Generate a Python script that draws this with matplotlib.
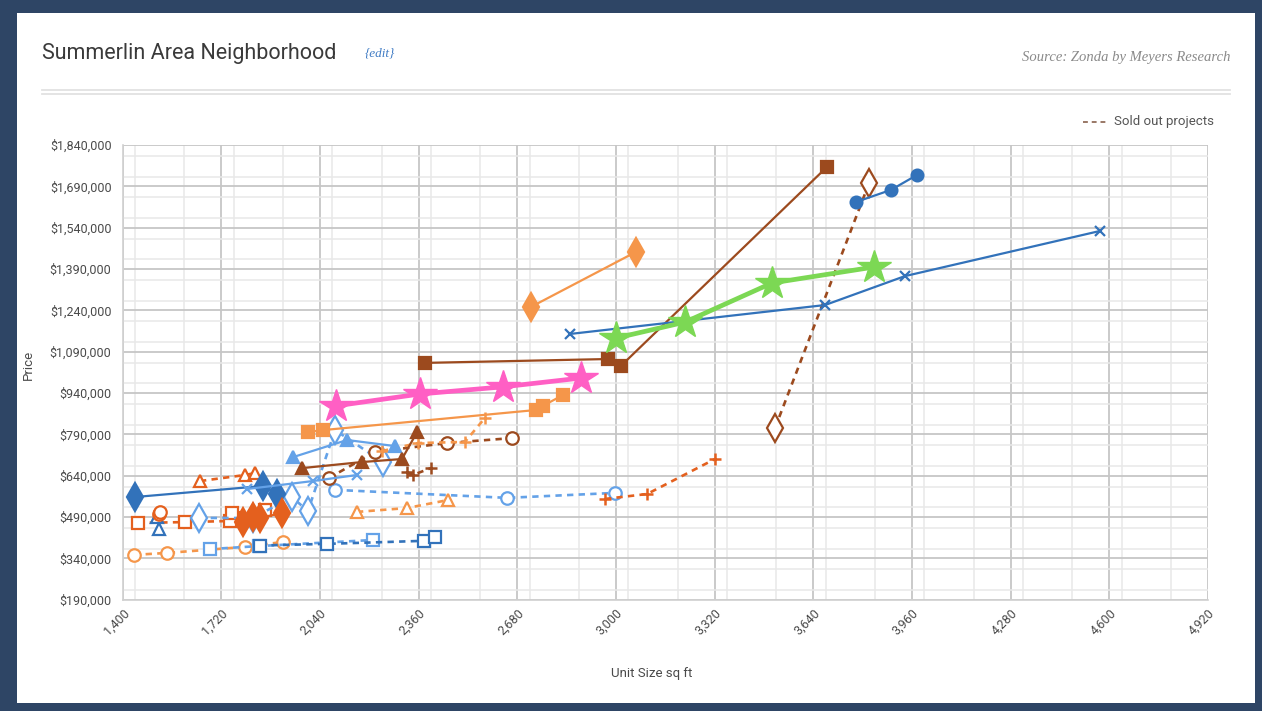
import matplotlib
matplotlib.use("Agg")
import matplotlib.pyplot as plt
from matplotlib.ticker import FuncFormatter, MultipleLocator
from matplotlib.lines import Line2D
from matplotlib.patches import Rectangle

# ---- data: unit size (sq ft) and price for each community ----
brown_sq_x = [2381, 2974, 3016, 3684]
brown_sq_y = [1049000, 1063000, 1038000, 1760000]

blue_circle_x = [3778, 3892, 3976]
blue_circle_y = [1633000, 1677000, 1731000]

blue_x_x = [2851, 3678, 3937, 4570]
blue_x_y = [1154000, 1259000, 1364000, 1528000]

green_star_x = [3000, 3224, 3506, 3837]
green_star_y = [1139000, 1197000, 1339000, 1397000]

brown_diamond_x = [3516, 3821]
brown_diamond_y = [813000, 1702000]

orange_diamond_x = [2724, 3065]
orange_diamond_y = [1252000, 1452000]

pink_star_x = [2092, 2364, 2634, 2887]
pink_star_y = [893000, 936000, 962000, 994000]

orange_sq_x = [2001, 2050, 2741, 2763, 2828]
orange_sq_y = [798000, 805000, 878000, 893000, 932000]

brown_tri_x = [1982, 2176, 2306, 2355]
brown_tri_y = [667000, 689000, 700000, 798000]

lblue_tri_x = [1953, 2128, 2283]
lblue_tri_y = [707000, 769000, 747000]

lblue_x_x = [1803, 2017, 2160]
lblue_x_y = [591000, 620000, 642000]

dblue_diamond_x = [1440, 1855, 1901]
dblue_diamond_y = [562000, 602000, 573000]

red_diamond_x = [1790, 1823, 1846, 1917]
red_diamond_y = [471000, 490000, 486000, 504000]

red_tri_x = [1651, 1797, 1829]
red_tri_y = [620000, 642000, 649000]

red_sq_x = [1450, 1602, 1748, 1755, 1862]
red_sq_y = [468000, 471000, 475000, 504000, 515000]

dblue_tri_x = [1512, 1518]
dblue_tri_y = [490000, 446000]

red_circle_x = [1518, 1522]
red_circle_y = [500000, 507000]

lblue_diamond_x = [1648, 1823, 1949, 2001, 2089, 2244]
lblue_diamond_y = [486000, 486000, 562000, 511000, 805000, 689000]

lblue_circle_x = [2089, 2647, 2997]
lblue_circle_y = [588000, 559000, 577000]

orange_tri_x = [2160, 2322, 2455]
orange_tri_y = [508000, 522000, 551000]

orange_circle_x = [1437, 1544, 1797, 1920]
orange_circle_y = [352000, 359000, 381000, 399000]

lblue_sq_x = [1683, 1842, 2212]
lblue_sq_y = [373000, 384000, 406000]

dblue_sq_x = [1845, 2063, 2377, 2413]
dblue_sq_y = [386000, 392000, 403000, 417000]

brown_circle_x = [2069, 2219, 2452, 2663]
brown_circle_y = [631000, 726000, 758000, 776000]

brown_plus_x = [2322, 2341, 2400]
brown_plus_y = [653000, 642000, 667000]

orange_plus_x = [2241, 2358, 2510, 2575]
orange_plus_y = [729000, 758000, 762000, 849000]

red_plus_x = [2964, 3101, 3321]
red_plus_y = [555000, 573000, 700000]

x_ticks = [1400, 1720, 2040, 2360, 2680, 3000, 3320, 3640, 3960, 4280, 4600, 4920]
y_ticks = [190000, 340000, 490000, 640000, 790000, 940000, 1090000,
           1240000, 1390000, 1540000, 1690000, 1840000]

# ---- colours ----
BROWN = "#9C4A1E"
BLUE = "#3272BA"
LBLUE = "#64A2E8"
ORANGE = "#F5964A"
RED = "#E4601E"
GREEN = "#7CD854"
PINK = "#FF5FC4"

NARROW = ["Roboto", "DejaVu Sans"]

fig = plt.figure(figsize=(12.62, 7.11), dpi=100)
fig.patch.set_facecolor("#2E4565")
fig.patches.append(Rectangle((17 / 1262, 8 / 711), (1255 - 17) / 1262, (698 - 8) / 711,
                             transform=fig.transFigure, facecolor="white",
                             edgecolor="none", zorder=-10))

ax = fig.add_axes([122.6 / 1262, 1 - 599.5 / 711, (1208 - 122.6) / 1262, (599.5 - 145) / 711])
ax.set_zorder(5)
ax.set_facecolor("white")

dash = (0, (2.4, 2.0))


def series(x, y, color, marker, ms, filled=True, ls="-", lw=1.6, mew=1.6, z=3):
    ax.plot(x, y, color=color, linestyle=ls, linewidth=lw, marker=marker,
            markersize=ms, markerfacecolor=color if filled else "white",
            markeredgecolor=color, markeredgewidth=mew, zorder=z,
            solid_capstyle="round")


# dashed (sold out) communities
series(orange_circle_x, orange_circle_y, ORANGE, "o", 9, False, dash, 1.9)
series(lblue_sq_x, lblue_sq_y, LBLUE, "s", 9, False, dash, 1.9)
series(dblue_sq_x, dblue_sq_y, BLUE, "s", 9, False, dash, 1.9)
series(red_sq_x, red_sq_y, RED, "s", 9, False, dash, 1.9)
series(red_tri_x, red_tri_y, RED, "^", 9, False, dash, 1.9)
series(lblue_diamond_x, lblue_diamond_y, LBLUE, "d", 14, False, dash, 1.9)
series(lblue_circle_x, lblue_circle_y, LBLUE, "o", 9, False, dash, 1.9)
series(orange_tri_x, orange_tri_y, ORANGE, "^", 9, False, dash, 1.9)
series(brown_circle_x, brown_circle_y, BROWN, "o", 9, False, dash, 1.9)
series(brown_plus_x, brown_plus_y, BROWN, "+", 9, True, dash, 1.9, 1.8)
series(orange_plus_x, orange_plus_y, ORANGE, "+", 9, True, dash, 1.9, 1.8)
series(red_plus_x, red_plus_y, RED, "+", 9, True, dash, 1.9, 1.8)
series(brown_diamond_x, brown_diamond_y, BROWN, "d", 14, False, dash, 1.9)

# active communities
series(dblue_tri_x, dblue_tri_y, BLUE, "^", 9, False)
series(red_circle_x, red_circle_y, RED, "o", 9, False)
series(dblue_diamond_x, dblue_diamond_y, BLUE, "d", 14)
series(red_diamond_x, red_diamond_y, RED, "d", 14)
series(lblue_x_x, lblue_x_y, LBLUE, "x", 7)
series(lblue_tri_x, lblue_tri_y, LBLUE, "^", 8)
series(brown_tri_x, brown_tri_y, BROWN, "^", 8)
series(orange_sq_x, orange_sq_y, ORANGE, "s", 8)
series(orange_diamond_x, orange_diamond_y, ORANGE, "d", 14)
series(brown_sq_x, brown_sq_y, BROWN, "s", 8)
series(blue_x_x, blue_x_y, BLUE, "x", 7)
series(blue_circle_x, blue_circle_y, BLUE, "o", 8.5)
series(pink_star_x, pink_star_y, PINK, "*", 25, True, "-", 3.4, 1, z=4)
series(green_star_x, green_star_y, GREEN, "*", 25, True, "-", 3.4, 1, z=4)

# ---- axes ----
ax.set_xlim(x_ticks[0], x_ticks[-1])
ax.set_ylim(y_ticks[0], y_ticks[-1])
ax.set_xticks(x_ticks)
ax.set_yticks(y_ticks)
ax.xaxis.set_minor_locator(MultipleLocator(160))
ax.yaxis.set_minor_locator(MultipleLocator(75000))
ax.grid(which="major", color="#C6C6C6", linewidth=1.3, zorder=0)
ax.grid(which="minor", color="#E8E8E8", linewidth=1.1, zorder=0)
ax.set_axisbelow(True)
for side in ("top", "right"):
    ax.spines[side].set_visible(False)
for side in ("left", "bottom"):
    ax.spines[side].set_color("#D0D0D0")
    ax.spines[side].set_linewidth(1.2)
ax.tick_params(which="both", length=0, colors="#4A4A4A")
ax.tick_params(axis="y", pad=8)
ax.tick_params(axis="x", pad=5)

ax.yaxis.set_major_formatter(FuncFormatter(lambda v, p: f"${v:,.0f}"))
ax.xaxis.set_major_formatter(FuncFormatter(lambda v, p: f"{v:,.0f}"))
for lab in ax.get_yticklabels():
    lab.set_family(NARROW)
    lab.set_fontsize(9)
    lab.set_color("#4A4A4A")
for lab in ax.get_xticklabels():
    lab.set_family(NARROW)
    lab.set_fontsize(9)
    lab.set_color("#4A4A4A")
    lab.set_rotation(45)
    lab.set_ha("right")
    lab.set_va("top")
    lab.set_rotation_mode("anchor")

fig.text(28 / 1262, 1 - 365 / 711, "Price", rotation=90, ha="center", va="center",
         family=NARROW, fontsize=9.5, color="#4A4A4A")
fig.text(652 / 1262, 1 - 673 / 711, "Unit Size sq ft", ha="center", va="center",
         family=NARROW, fontsize=9.5, color="#4A4A4A")

# ---- header ----
fig.text(42 / 1262, 1 - 53 / 711, "Summerlin Area Neighborhood", ha="left", va="center",
         family=NARROW, fontsize=15.5, color="#3A3A3A")
fig.text(365 / 1262, 1 - 53 / 711, "{edit}", ha="left", va="center",
         family=["Liberation Serif", "DejaVu Serif"], style="italic", fontsize=9.5,
         color="#3F7BC4")
fig.text(1230 / 1262, 1 - 57 / 711, "Source: Zonda by Meyers Research", ha="right",
         va="center", family=["Liberation Serif", "DejaVu Serif"], style="italic",
         fontsize=10.5, color="#8A8A8A")
for yy in (90, 94):
    fig.add_artist(Line2D([42 / 1262, 1230 / 1262], [1 - yy / 711, 1 - yy / 711],
                          transform=fig.transFigure, color="#E2E2E2", linewidth=1.3))

# legend entry for sold-out projects
fig.add_artist(Line2D([1083 / 1262, 1106 / 1262], [1 - 122 / 711, 1 - 122 / 711],
                      transform=fig.transFigure, color="#9A7866", linewidth=1.4,
                      linestyle=(0, (2.5, 2))))
fig.text(1114 / 1262, 1 - 122 / 711, "Sold out projects", ha="left", va="center",
         family=NARROW, fontsize=9.5, color="#555555")

fig.savefig("out.png", dpi=100, facecolor=fig.get_facecolor())
